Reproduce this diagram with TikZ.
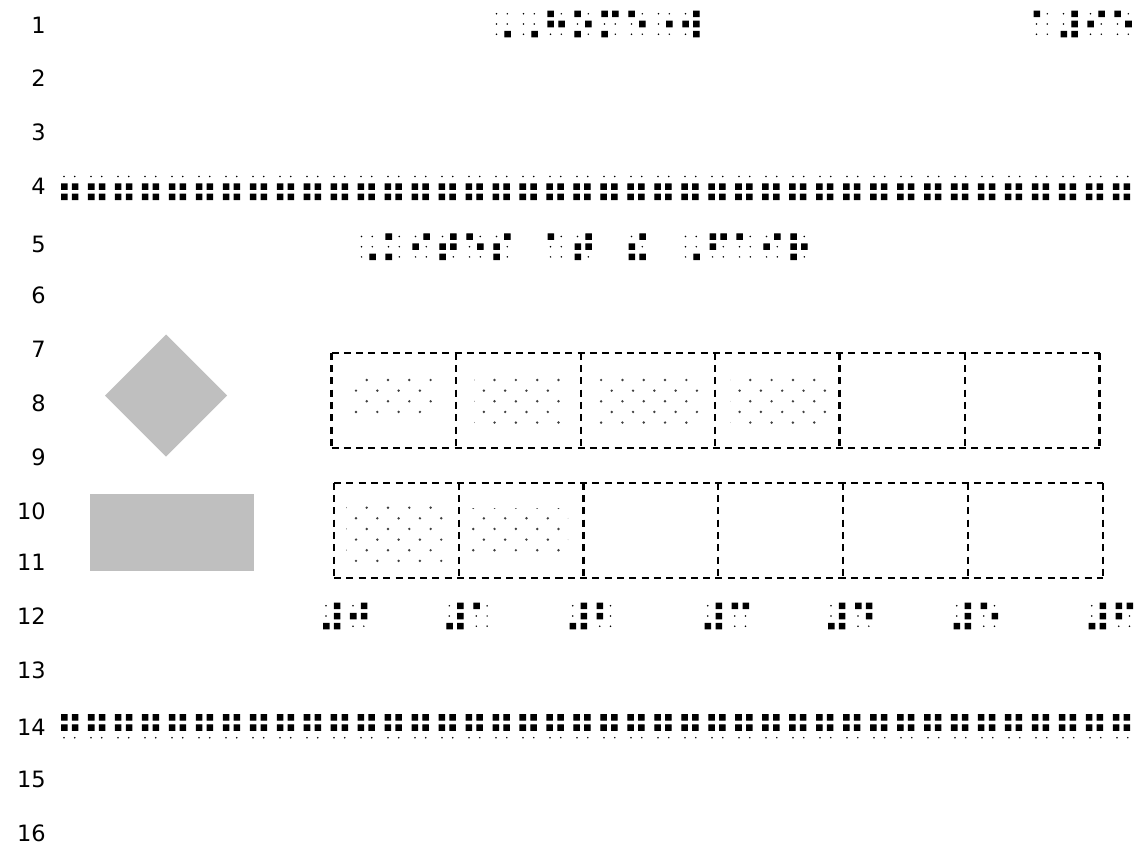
\documentclass[tikz,border=0pt]{standalone}
\usepackage{fontspec}
\setmainfont{DejaVu Sans}
\newfontfamily\brlfont[FakeBold=3]{DejaVu Sans}
\usetikzlibrary{positioning}

\tikzset{
  linenum/.style={anchor=east, inner sep=0pt, font=\fontsize{16}{18}\selectfont},
  brl/.style={anchor=base west, inner sep=0pt, font=\brlfont\fontsize{26.2}{26.2}\selectfont},
  dashbox/.style={line width=1.6pt, dash pattern=on 5pt off 3.75pt},
  shapegray/.style={fill=black!25},
  texdot/.style={fill=black!75},
  shadow/.style={fill=black},
}

% braille text with its unraised dots: left dot x, number of cells, centre y, name, text
\newcommand\brlline[5]{%
  \foreach \k in {1,...,#2}
    \foreach \dy in {-10.2,0,10.2}
      \foreach \dx in {0,10.8}
        \fill[shadow] ({#1+27*(\k-1)+\dx},{#3+\dy}) circle (0.85);
  \node[brl] (#4) at (#1-8.1,#3+15.9) {#5};%
}

% dot texture clipped to a rectangle
\newcommand\texfill[4]{%
  \begin{scope}
    \clip (#1,#2) rectangle (#3,#4);
    \foreach \j in {0,...,18}
      \foreach \i in {-2,...,23} {
        \pgfmathsetmacro\xo{iseven(\j) ? 366.7 : 356}
        \fill[texdot] ({\xo+21.31*\i},{380+10.64*\j}) circle (1.35);
      }
  \end{scope}%
}

\begin{document}
\begin{tikzpicture}[x=0.025cm, y=-0.025cm]
  \useasboundingbox[fill=white] (0,0) rectangle (1136,853);

  % Line numbers
  \foreach \n/\yy in {1/25, 2/78.5, 3/132.5, 4/186.5, 5/244, 6/295, 7/349, 8/403,
                      9/457, 10/511, 11/562, 12/616, 13/670, 14/727.5, 15/779, 16/833}
    \node[linenum] (ln\n) at (46,\yy) {\n};

  % Running head
  \brlline{496.5}{8}{24}{title}{⠠⠠⠓⠕⠍⠑⠐⠺}
  \brlline{1036.5}{4}{24}{pagenum}{⠁⠼⠊⠑}

  % Separator lines
  \brlline{64}{40}{186.7}{sepa}{⠶⠶⠶⠶⠶⠶⠶⠶⠶⠶⠶⠶⠶⠶⠶⠶⠶⠶⠶⠶⠶⠶⠶⠶⠶⠶⠶⠶⠶⠶⠶⠶⠶⠶⠶⠶⠶⠶⠶⠶}
  \brlline{64}{40}{727.5}{sepb}{⠛⠛⠛⠛⠛⠛⠛⠛⠛⠛⠛⠛⠛⠛⠛⠛⠛⠛⠛⠛⠛⠛⠛⠛⠛⠛⠛⠛⠛⠛⠛⠛⠛⠛⠛⠛⠛⠛⠛⠛}

  % Caption
  \brlline{361.5}{6}{246.7}{capa}{⠠⠅⠊⠞⠑⠎}
  \brlline{550.5}{2}{246.7}{capb}{⠁⠞}
  \brlline{631.5}{1}{246.7}{capc}{⠮}
  \brlline{685.5}{5}{246.7}{capd}{⠠⠋⠁⠊⠗}

  % Key shapes
  \fill[shapegray] (166,334.5) -- (227,395.5) -- (166,456.5) -- (105,395.5) -- cycle;
  \fill[shapegray] (90,494) rectangle (254,571);

  % Dot textures
  \texfill{350}{376}{436}{416}
  \texfill{474}{376}{562}{426}
  \texfill{594}{376}{700}{426}
  \texfill{730}{376}{828}{426}
  \texfill{346}{504}{444}{564}
  \texfill{471}{508.5}{568}{555}

  % Box rows
  \draw[dashbox] (331.5,352.7) -- (1099.5,352.7);
  \draw[dashbox] (331.5,447.7) -- (1099.5,447.7);
  \foreach \xx in {331.5,456,581,715,839.5,965,1099.5}
    \draw[dashbox] (\xx,352.7) -- (\xx,447.7);
  \draw[dashbox] (334,482.7) -- (1103,482.7);
  \draw[dashbox] (334,577.7) -- (1103,577.7);
  \foreach \xx in {334,459,583.5,718,843,968,1103}
    \draw[dashbox] (\xx,482.7) -- (\xx,577.7);

  % Scale labels
  \foreach \v/\lab/\xx in {0/⠚/326, 1/⠁/449.3, 2/⠃/572.7, 3/⠉/707.7, 4/⠙/831, 5/⠑/956.7, 6/⠋/1091.7} {
    \brlline{\xx}{2}{616}{tick\v}{⠼\lab}
  }
\end{tikzpicture}
\end{document}
